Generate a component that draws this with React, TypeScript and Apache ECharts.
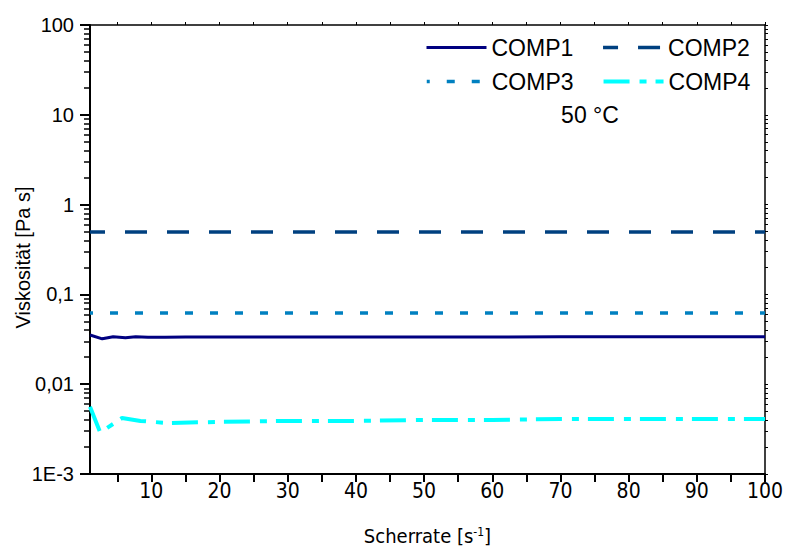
import React, { useEffect, useRef } from 'react';
import * as echarts from 'echarts';

// ---- data ----
const seriesNames = ['COMP1', 'COMP2', 'COMP3', 'COMP4'];

const comp1X = [1, 2.8, 4.4, 6.2, 7.7, 9.5, 12, 15, 20, 30, 40, 50, 60, 70, 80, 90, 100];
const comp1Y = [0.0353, 0.032, 0.0338, 0.033, 0.0337, 0.0333, 0.0334, 0.0335, 0.0335, 0.0336, 0.0336, 0.0336, 0.0336, 0.0337, 0.0337, 0.0337, 0.0337];

const comp2X = [1, 10, 20, 30, 40, 50, 60, 70, 80, 90, 100];
const comp2Y = [0.495, 0.495, 0.495, 0.495, 0.495, 0.495, 0.495, 0.495, 0.495, 0.495, 0.495];

const comp3X = [1, 10, 20, 30, 40, 50, 60, 70, 80, 90, 100];
const comp3Y = [0.062, 0.062, 0.062, 0.062, 0.062, 0.062, 0.062, 0.062, 0.062, 0.062, 0.062];

const comp4X = [1, 2.5, 5.7, 8.4, 12.3, 20, 30, 40, 50, 60, 70, 80, 90, 100];
const comp4Y = [0.0056, 0.0029, 0.0042, 0.0039, 0.0037, 0.0038, 0.0039, 0.0039, 0.004, 0.004, 0.0041, 0.0041, 0.0041, 0.0041];

const xTickLabels = [10, 20, 30, 40, 50, 60, 70, 80, 90, 100];
const xTickMarks = [5, 10, 15, 20, 25, 30, 35, 40, 45, 50, 55, 60, 65, 70, 75, 80, 85, 90, 95, 100];
const yDecades = [0.001, 0.01, 0.1, 1, 10, 100];
const yTickLabels = ['1E-3', '0,01', '0,1', '1', '10', '100'];
const yMinorMultipliers = [2, 3, 4, 5, 6, 7, 8, 9];
const tempLabel = '50 °C';
const xName = 'Scherrate [s{sup|-1}]';
const yName = 'Viskosität [Pa s]';

const colors = ['#000080', '#004080', '#0080c0', '#00ffff'];
const widths = [3, 3.5, 3.5, 4];
const dashes: any[] = ['solid', [22, 20], [8, 17], [26, 10, 7, 9]];
const dashOffsets = [0, 6.5, 5, 0];

const FONT = '"Liberation Sans", Arial, sans-serif';
const NARROW = '"Liberation Sans Narrow", "Arial Narrow", "DejaVu Sans Condensed", sans-serif';

export default function App() {
  const ref = useRef<HTMLDivElement>(null);
  useEffect(() => {
    if (!ref.current) return;
    const chart = echarts.init(ref.current, undefined, { renderer: 'svg' });

    const yMinor: number[] = [];
    for (let i = 0; i < yDecades.length - 1; i++) {
      for (const m of yMinorMultipliers) yMinor.push(+(yDecades[i] * m).toPrecision(3));
    }
    const yAll = [...yDecades, ...yMinor];

    const pairs = (xs: number[], ys: number[]) => xs.map((x, i) => [x, ys[i]]);

    const yLabel = (v: number) => {
      const e = Math.round(Math.log10(v));
      const idx = e + 3;
      return yTickLabels[idx] ?? '';
    };

    const lineStyleOf = (i: number) => ({
      color: colors[i],
      width: widths[i],
      type: dashes[i],
      dashOffset: dashOffsets[i],
      cap: 'butt',
    });

    const legendItem = (i: number) => ({
      name: seriesNames[i],
      lineStyle: lineStyleOf(i),
      itemStyle: { opacity: 0, color: 'transparent', borderWidth: 0 },
    });

    const legendBase = {
      left: 425,
      orient: 'horizontal',
      padding: 0,
      itemWidth: 60,
      itemHeight: 14,
      itemGap: 28,
      itemStyle: { opacity: 0, color: 'transparent', borderWidth: 0 },
      textStyle: { fontSize: 23, fontFamily: FONT, color: '#000' },
    };

    const option: any = {
      animation: false,
      backgroundColor: '#ffffff',
      grid: { left: 90, right: 21, top: 25, bottom: 78, containLabel: false, outerBoundsMode: 'none' },
      xAxis: [
        {
          type: 'value',
          min: 1,
          max: 100,
          position: 'bottom',
          splitLine: { show: false },
          axisLine: { show: true, lineStyle: { color: '#000', width: 2 } },
          axisTick: { show: true, inside: false, length: 8, customValues: xTickMarks, lineStyle: { color: '#000', width: 2 } },
          axisLabel: {
            show: true,
            customValues: xTickLabels,
            margin: 6,
            fontSize: 21,
            fontFamily: NARROW,
            color: '#000',
            formatter: (v: number) => String(v),
          },
          name: xName,
          nameLocation: 'middle',
          nameGap: 52,
          nameMoveOverlap: false,
          nameTextStyle: {
            fontSize: 20,
            fontFamily: NARROW,
            color: '#000',
            rich: { sup: { fontSize: 12, fontFamily: NARROW, color: '#000', verticalAlign: 'top', padding: [0, 0, 8, 0] } },
          },
        },
        {
          type: 'value',
          min: 1,
          max: 100,
          position: 'top',
          splitLine: { show: false },
          axisLine: { show: true, lineStyle: { color: '#000', width: 1.5 } },
          axisTick: { show: true, inside: false, length: 3, customValues: xTickMarks, lineStyle: { color: '#000', width: 1 } },
          axisLabel: { show: false },
        },
      ],
      yAxis: [
        {
          type: 'log',
          logBase: 10,
          min: 0.001,
          max: 100,
          position: 'left',
          splitLine: { show: false },
          axisLine: { show: true, lineStyle: { color: '#000', width: 2 } },
          axisTick: { show: true, inside: false, length: 10, lineStyle: { color: '#000', width: 2 } },
          axisLabel: { show: true, margin: 16, fontSize: 20, fontFamily: FONT, color: '#000', formatter: yLabel },
          name: yName,
          nameLocation: 'middle',
          nameRotate: 90,
          nameGap: 57,
          nameMoveOverlap: false,
          nameTextStyle: { fontSize: 20, fontFamily: FONT, color: '#000', padding: [0, 16, 0, 0] },
        },
        {
          type: 'log',
          logBase: 10,
          min: 0.001,
          max: 100,
          position: 'left',
          splitLine: { show: false },
          axisLine: { show: false },
          axisTick: { show: true, inside: false, length: 6, customValues: yMinor, lineStyle: { color: '#000', width: 1.5 } },
          axisLabel: { show: false },
        },
        {
          type: 'log',
          logBase: 10,
          min: 0.001,
          max: 100,
          position: 'right',
          splitLine: { show: false },
          axisLine: { show: true, lineStyle: { color: '#000', width: 1.5 } },
          axisTick: { show: true, inside: false, length: 3, customValues: yAll, lineStyle: { color: '#000', width: 1 } },
          axisLabel: { show: false },
        },
      ],
      legend: [
        { ...legendBase, top: 36, data: [legendItem(0), legendItem(1)] },
        { ...legendBase, top: 70, data: [legendItem(2), legendItem(3)] },
      ],
      graphic: [
        {
          type: 'text',
          x: 590,
          y: 115,
          style: {
            text: tempLabel,
            font: `23px ${FONT}`,
            fill: '#000',
            align: 'center',
            verticalAlign: 'middle',
            textAlign: 'center',
            textVerticalAlign: 'middle',
          },
        },
      ],
      series: seriesNames.map((name, i) => {
        const xs = [comp1X, comp2X, comp3X, comp4X][i];
        const ys = [comp1Y, comp2Y, comp3Y, comp4Y][i];
        return {
          name,
          type: 'line',
          data: pairs(xs, ys),
          symbol: 'none',
          showSymbol: false,
          lineStyle: lineStyleOf(i),
          itemStyle: { color: colors[i] },
          z: i === 0 ? 4 : 2,
        };
      }),
    };
    chart.setOption(option);
    return () => chart.dispose();
  }, []);

  return (
    <div
      ref={ref}
      style={{ position: 'fixed', left: 0, top: 0, width: 786, height: 552, background: '#fff' }}
    />
  );
}
